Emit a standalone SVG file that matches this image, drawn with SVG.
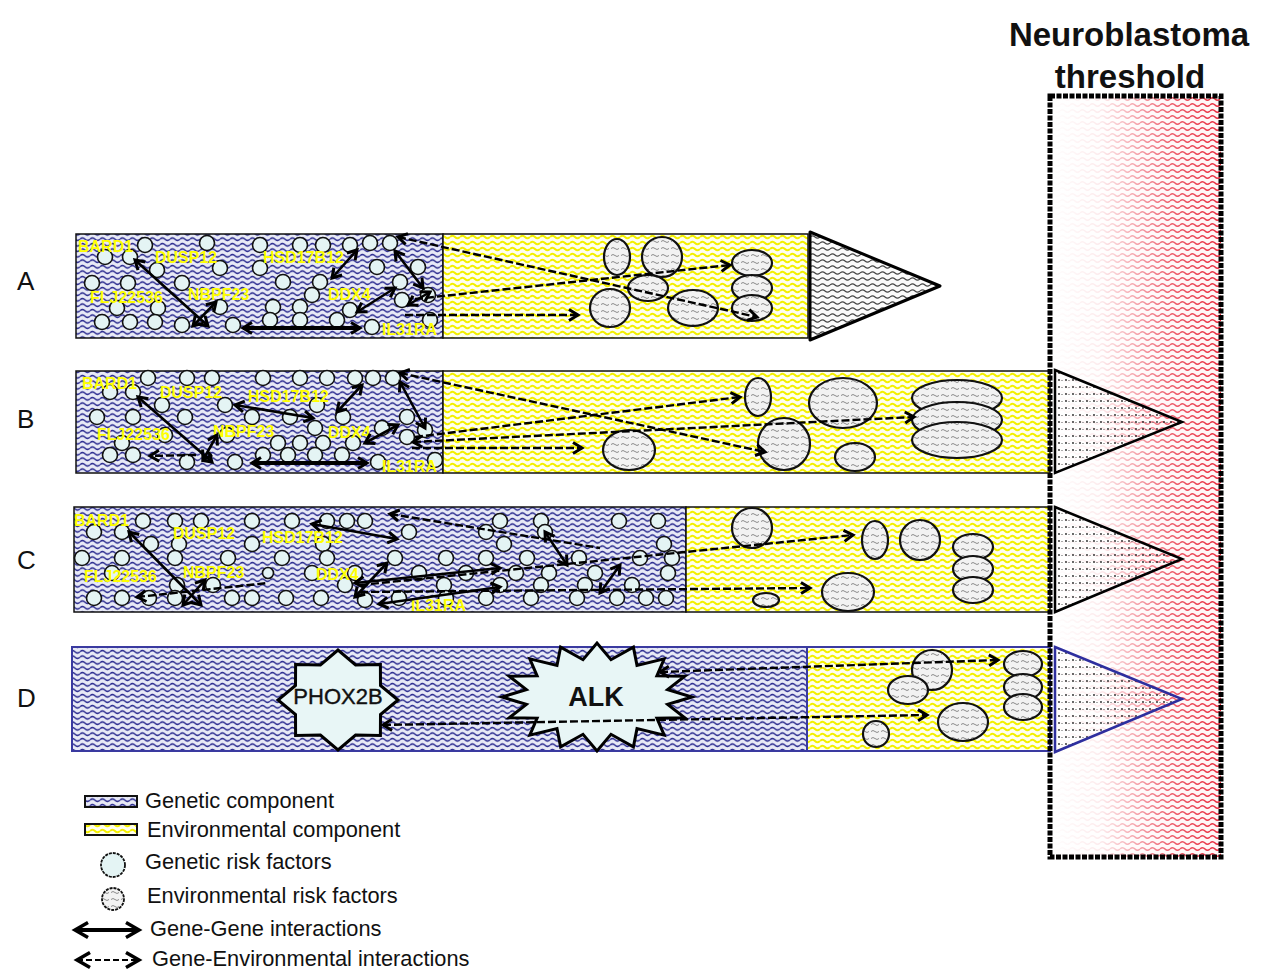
<svg xmlns="http://www.w3.org/2000/svg" width="1265" height="971" viewBox="0 0 1265 971">
<defs>
<style>
.lbl{font-family:"Liberation Sans",Arial,sans-serif;font-size:26px;fill:#111}
.gl{font-family:"Liberation Sans",Arial,sans-serif;font-size:16px;font-weight:bold;fill:#ffff00}
.leg{font-family:"Liberation Sans",Arial,sans-serif;font-size:21.8px;fill:#111}
.ttl{font-family:"Liberation Sans",Arial,sans-serif;font-size:33px;font-weight:bold;fill:#111;text-anchor:middle}
.gc{fill:#e4f4f4;stroke:#111;stroke-width:1.6}
.ec{fill:url(#pEnvRF);stroke:#111;stroke-width:2.2}
.gg{fill:none;stroke:#000;stroke-width:2.6;marker-start:url(#mh);marker-end:url(#mh)}
.ge{fill:none;stroke:#000;stroke-width:2.4;stroke-dasharray:8 3}
.geb{marker-start:url(#mh);marker-end:url(#mh)}
.gee{marker-end:url(#mh)}
.ges{marker-start:url(#mh)}
.gen{fill:url(#pGen);stroke:#111;stroke-width:1.5}
.env{fill:url(#pEnv);stroke:#111;stroke-width:1.5}
</style>
<pattern id="pGen" width="10" height="5.5" patternUnits="userSpaceOnUse">
<rect width="10" height="5.5" fill="#e8eaf6"/>
<path d="M0,2.75 q2.5,-2.4 5,0 t5,0" fill="none" stroke="#28288e" stroke-width="1.5"/>
</pattern>
<pattern id="pEnv" width="10" height="6" patternUnits="userSpaceOnUse">
<rect width="10" height="6" fill="#fffff0"/>
<path d="M0,3 q2.5,-2.6 5,0 t5,0" fill="none" stroke="#f4f000" stroke-width="2"/>
</pattern>
<pattern id="pEnvRF" width="10" height="7" patternUnits="userSpaceOnUse">
<rect width="10" height="7" fill="#f2f2f2"/>
<path d="M1,3.5 q2,-2 4,0 t4,0" fill="none" stroke="#8a8a8a" stroke-width="1"/>
</pattern>
<pattern id="pTri" width="10" height="6" patternUnits="userSpaceOnUse">
<rect width="10" height="6" fill="#fbfbfb"/>
<path d="M0,3 q2.5,-2.4 5,0 t5,0" fill="none" stroke="#444" stroke-width="1.1"/>
</pattern>
<pattern id="pRed" width="10" height="6" patternUnits="userSpaceOnUse">
<rect width="10" height="6" fill="#fff6f6"/>
<path d="M0,3 q2.5,-2.6 5,0 t5,0" fill="none" stroke="#e8283c" stroke-width="1.5"/>
</pattern>
<pattern id="pDot" width="7" height="7" patternUnits="userSpaceOnUse">
<circle cx="2" cy="2" r="0.9" fill="#222"/>
<circle cx="5" cy="2.5" r="0.6" fill="#444"/>
</pattern>
<linearGradient id="gWhite" x1="0" y1="0" x2="1" y2="0">
<stop offset="0" stop-color="#fff" stop-opacity="1"/>
<stop offset="0.3" stop-color="#fff" stop-opacity="0.9"/>
<stop offset="0.7" stop-color="#fff" stop-opacity="0.25"/>
<stop offset="1" stop-color="#fff" stop-opacity="0"/>
</linearGradient>
<marker id="mh" viewBox="0 0 14 14" refX="12" refY="7" markerWidth="14" markerHeight="14" markerUnits="userSpaceOnUse" orient="auto-start-reverse" overflow="visible">
<path d="M3,1.5 L12,7 L3,12.5" fill="none" stroke="#000" stroke-width="3" stroke-linejoin="miter"/>
</marker>
<marker id="mhL" viewBox="0 0 18 18" refX="16" refY="9" markerWidth="18" markerHeight="18" markerUnits="userSpaceOnUse" orient="auto-start-reverse" overflow="visible">
<path d="M3,1.5 L16,9 L3,16.5" fill="none" stroke="#000" stroke-width="3.5"/>
</marker>
</defs>
<rect width="1265" height="971" fill="#fff"/>

<!-- Threshold -->
<g id="threshold">
<rect x="1050" y="96" width="171" height="761" fill="url(#pRed)"/>
<rect x="1050" y="96" width="171" height="761" fill="url(#gWhite)"/>
</g>

<!-- Row labels -->
<g id="row-labels">
<text class="lbl" x="17" y="290">A</text>
<text class="lbl" x="17" y="428">B</text>
<text class="lbl" x="17" y="569">C</text>
<text class="lbl" x="17" y="707">D</text>
</g>

<!-- Row A -->
<g id="rowA-genetic">
<rect class="gen" x="76" y="234" width="367" height="104"/>
<g>
<circle class="gc" cx="145" cy="245" r="7.5"/><circle class="gc" cx="207" cy="243" r="7.5"/><circle class="gc" cx="260" cy="245" r="7.5"/><circle class="gc" cx="300" cy="245" r="7.5"/><circle class="gc" cx="323" cy="245" r="7.5"/><circle class="gc" cx="350" cy="245" r="7.5"/><circle class="gc" cx="370" cy="243" r="7.5"/><circle class="gc" cx="390" cy="243" r="7.5"/>
<circle class="gc" cx="105" cy="257" r="7.5"/><circle class="gc" cx="130" cy="257" r="7.5"/>
<circle class="gc" cx="157" cy="270" r="7.5"/><circle class="gc" cx="220" cy="268" r="7.5"/><circle class="gc" cx="260" cy="268" r="7.5"/><circle class="gc" cx="377" cy="267" r="7.5"/><circle class="gc" cx="418" cy="267" r="7.5"/>
<circle class="gc" cx="92" cy="283" r="7.5"/><circle class="gc" cx="128" cy="283" r="7.5"/><circle class="gc" cx="182" cy="283" r="7.5"/><circle class="gc" cx="283" cy="282" r="7.5"/><circle class="gc" cx="320" cy="282" r="7.5"/><circle class="gc" cx="400" cy="282" r="7.5"/>
<circle class="gc" cx="312" cy="295" r="7.5"/><circle class="gc" cx="428" cy="295" r="7.5"/><circle class="gc" cx="402" cy="300" r="7.5"/>
<circle class="gc" cx="117" cy="308" r="7.5"/><circle class="gc" cx="158" cy="308" r="7.5"/><circle class="gc" cx="220" cy="307" r="7.5"/><circle class="gc" cx="273" cy="307" r="7.5"/><circle class="gc" cx="300" cy="307" r="7.5"/><circle class="gc" cx="350" cy="310" r="7.5"/>
<circle class="gc" cx="102" cy="322" r="7.5"/><circle class="gc" cx="130" cy="322" r="7.5"/><circle class="gc" cx="155" cy="322" r="7.5"/><circle class="gc" cx="182" cy="325" r="7.5"/><circle class="gc" cx="233" cy="325" r="7.5"/><circle class="gc" cx="270" cy="320" r="7.5"/><circle class="gc" cx="300" cy="320" r="7.5"/><circle class="gc" cx="337" cy="320" r="7.5"/><circle class="gc" cx="372" cy="327" r="7.5"/><circle class="gc" cx="430" cy="320" r="7.5"/>
</g>
<text class="gl" x="78" y="252">BARD1</text>
<text class="gl" x="155" y="263">DUSP12</text>
<text class="gl" x="263" y="263">HSD17B12</text>
<text class="gl" x="90" y="303">FLJ22536</text>
<text class="gl" x="188" y="300">NBPF23</text>
<text class="gl" x="328" y="300">DDX4</text>
<text class="gl" x="382" y="335">IL31RA</text>
</g>
<g id="rowA-env">
<rect class="env" x="443" y="234" width="365" height="104"/>
<ellipse class="ec" cx="617" cy="257" rx="13" ry="18"/>
<ellipse class="ec" cx="662" cy="257" rx="20" ry="20"/>
<ellipse class="ec" cx="648" cy="288" rx="20" ry="13"/>
<ellipse class="ec" cx="610" cy="308" rx="20" ry="19"/>
<ellipse class="ec" cx="693" cy="308" rx="25" ry="18"/>
<ellipse class="ec" cx="752" cy="263" rx="20" ry="13"/>
<ellipse class="ec" cx="752" cy="288" rx="20" ry="13"/>
<ellipse class="ec" cx="752" cy="308" rx="20" ry="13"/>
</g>
<g id="rowA-outcome">
<polygon points="810,232 940,286 810,340" fill="url(#pTri)" stroke="#000" stroke-width="3" stroke-linejoin="round"/>
</g>

<!-- Row B -->
<g id="rowB-genetic">
<rect class="gen" x="76" y="371" width="367" height="102"/>
<g>
<circle class="gc" cx="148" cy="378" r="7.5"/><circle class="gc" cx="187" cy="378" r="7.5"/><circle class="gc" cx="212" cy="378" r="7.5"/><circle class="gc" cx="263" cy="378" r="7.5"/><circle class="gc" cx="300" cy="378" r="7.5"/><circle class="gc" cx="327" cy="378" r="7.5"/><circle class="gc" cx="355" cy="378" r="7.5"/><circle class="gc" cx="373" cy="378" r="7.5"/><circle class="gc" cx="393" cy="378" r="7.5"/>
<circle class="gc" cx="110" cy="392" r="7.5"/><circle class="gc" cx="133" cy="392" r="7.5"/>
<circle class="gc" cx="162" cy="405" r="7.5"/><circle class="gc" cx="225" cy="405" r="7.5"/><circle class="gc" cx="317" cy="405" r="7.5"/>
<circle class="gc" cx="97" cy="417" r="7.5"/><circle class="gc" cx="133" cy="417" r="7.5"/><circle class="gc" cx="185" cy="417" r="7.5"/><circle class="gc" cx="252" cy="417" r="7.5"/><circle class="gc" cx="290" cy="417" r="7.5"/><circle class="gc" cx="343" cy="417" r="7.5"/><circle class="gc" cx="407" cy="417" r="7.5"/>
<circle class="gc" cx="315" cy="428" r="7.5"/><circle class="gc" cx="382" cy="428" r="7.5"/><circle class="gc" cx="425" cy="430" r="7.5"/>
<circle class="gc" cx="165" cy="435" r="7.5"/><circle class="gc" cx="227" cy="435" r="7.5"/><circle class="gc" cx="407" cy="437" r="7.5"/>
<circle class="gc" cx="122" cy="443" r="7.5"/><circle class="gc" cx="278" cy="443" r="7.5"/><circle class="gc" cx="300" cy="443" r="7.5"/><circle class="gc" cx="323" cy="443" r="7.5"/><circle class="gc" cx="353" cy="443" r="7.5"/>
<circle class="gc" cx="110" cy="455" r="7.5"/><circle class="gc" cx="133" cy="455" r="7.5"/><circle class="gc" cx="263" cy="455" r="7.5"/><circle class="gc" cx="288" cy="455" r="7.5"/><circle class="gc" cx="315" cy="455" r="7.5"/><circle class="gc" cx="342" cy="455" r="7.5"/>
<circle class="gc" cx="187" cy="462" r="7.5"/><circle class="gc" cx="235" cy="462" r="7.5"/><circle class="gc" cx="378" cy="462" r="7.5"/><circle class="gc" cx="435" cy="460" r="7.5"/>
</g>
<text class="gl" x="82" y="389">BARD1</text>
<text class="gl" x="160" y="398">DUSP12</text>
<text class="gl" x="248" y="402">HSD17B12</text>
<text class="gl" x="97" y="440">FLJ22536</text>
<text class="gl" x="213" y="437">NBPF23</text>
<text class="gl" x="328" y="438">DDX4</text>
<text class="gl" x="382" y="472">IL31RA</text>
</g>
<g id="rowB-env">
<rect class="env" x="443" y="371" width="607" height="102"/>
<ellipse class="ec" cx="758" cy="397" rx="13" ry="19"/>
<ellipse class="ec" cx="843" cy="403" rx="34" ry="25"/>
<ellipse class="ec" cx="957" cy="398" rx="45" ry="18"/>
<ellipse class="ec" cx="957" cy="420" rx="45" ry="18"/>
<ellipse class="ec" cx="957" cy="440" rx="45" ry="18"/>
<ellipse class="ec" cx="784" cy="444" rx="26" ry="26"/>
<ellipse class="ec" cx="629" cy="450" rx="26" ry="20"/>
<ellipse class="ec" cx="855" cy="457" rx="20" ry="14"/>
</g>

<!-- Row C -->
<g id="rowC-genetic">
<rect class="gen" x="74" y="507" width="612" height="105"/>
<g>
<circle class="gc" cx="143" cy="521" r="7.5"/><circle class="gc" cx="175" cy="521" r="7.5"/><circle class="gc" cx="201" cy="521" r="7.5"/><circle class="gc" cx="252" cy="521" r="7.5"/><circle class="gc" cx="292" cy="521" r="7.5"/><circle class="gc" cx="327" cy="521" r="7.5"/><circle class="gc" cx="347" cy="521" r="7.5"/><circle class="gc" cx="365" cy="521" r="7.5"/><circle class="gc" cx="500" cy="521" r="7.5"/><circle class="gc" cx="541" cy="521" r="7.5"/><circle class="gc" cx="619" cy="521" r="7.5"/><circle class="gc" cx="658" cy="521" r="7.5"/>
<circle class="gc" cx="94" cy="532" r="7.5"/><circle class="gc" cx="122" cy="532" r="7.5"/><circle class="gc" cx="409" cy="532" r="7.5"/><circle class="gc" cx="486" cy="532" r="7.5"/><circle class="gc" cx="545" cy="532" r="7.5"/>
<circle class="gc" cx="151" cy="544" r="7.5"/><circle class="gc" cx="179" cy="544" r="7.5"/><circle class="gc" cx="252" cy="544" r="7.5"/><circle class="gc" cx="323" cy="544" r="7.5"/><circle class="gc" cx="504" cy="544" r="7.5"/><circle class="gc" cx="664" cy="544" r="7.5"/>
<circle class="gc" cx="82" cy="558" r="7.5"/><circle class="gc" cx="122" cy="558" r="7.5"/><circle class="gc" cx="175" cy="558" r="7.5"/><circle class="gc" cx="228" cy="558" r="7.5"/><circle class="gc" cx="282" cy="558" r="7.5"/><circle class="gc" cx="327" cy="558" r="7.5"/><circle class="gc" cx="395" cy="558" r="7.5"/><circle class="gc" cx="446" cy="558" r="7.5"/><circle class="gc" cx="486" cy="558" r="7.5"/><circle class="gc" cx="527" cy="558" r="7.5"/><circle class="gc" cx="579" cy="558" r="7.5"/><circle class="gc" cx="640" cy="558" r="7.5"/><circle class="gc" cx="672" cy="558" r="7.5"/>
<circle class="gc" cx="112" cy="573" r="7.5"/><circle class="gc" cx="268" cy="573" r="5.5"/><circle class="gc" cx="312" cy="573" r="7.5"/><circle class="gc" cx="355" cy="573" r="7.5"/><circle class="gc" cx="419" cy="573" r="7.5"/><circle class="gc" cx="466" cy="573" r="7.5"/><circle class="gc" cx="516" cy="573" r="7.5"/><circle class="gc" cx="549" cy="573" r="7.5"/><circle class="gc" cx="595" cy="573" r="7.5"/><circle class="gc" cx="668" cy="573" r="7.5"/>
<circle class="gc" cx="177" cy="585" r="7.5"/><circle class="gc" cx="213" cy="585" r="7.5"/><circle class="gc" cx="345" cy="585" r="7.5"/><circle class="gc" cx="444" cy="585" r="7.5"/><circle class="gc" cx="500" cy="585" r="7.5"/><circle class="gc" cx="541" cy="585" r="7.5"/><circle class="gc" cx="585" cy="585" r="7.5"/><circle class="gc" cx="632" cy="585" r="7.5"/>
<circle class="gc" cx="94" cy="598" r="7.5"/><circle class="gc" cx="122" cy="598" r="7.5"/><circle class="gc" cx="149" cy="598" r="7.5"/><circle class="gc" cx="175" cy="598" r="7.5"/><circle class="gc" cx="232" cy="598" r="7.5"/><circle class="gc" cx="252" cy="598" r="7.5"/><circle class="gc" cx="286" cy="598" r="7.5"/><circle class="gc" cx="321" cy="598" r="7.5"/><circle class="gc" cx="365" cy="600" r="7.5"/><circle class="gc" cx="399" cy="598" r="7.5"/><circle class="gc" cx="446" cy="598" r="7.5"/><circle class="gc" cx="486" cy="598" r="7.5"/><circle class="gc" cx="531" cy="598" r="7.5"/><circle class="gc" cx="577" cy="598" r="7.5"/><circle class="gc" cx="617" cy="598" r="7.5"/><circle class="gc" cx="646" cy="598" r="7.5"/><circle class="gc" cx="666" cy="598" r="7.5"/>
</g>
<text class="gl" x="74" y="526">BARD1</text>
<text class="gl" x="173" y="539">DUSP12</text>
<text class="gl" x="262" y="543">HSD17B12</text>
<text class="gl" x="84" y="582">FLJ22536</text>
<text class="gl" x="183" y="578">NBPF23</text>
<text class="gl" x="316" y="580">DDX4</text>
<text class="gl" x="411" y="611">IL31RA</text>
</g>
<g id="rowC-env">
<rect class="env" x="686" y="507" width="364" height="105"/>
<ellipse class="ec" cx="752" cy="528" rx="20" ry="20"/>
<ellipse class="ec" cx="875" cy="540" rx="13" ry="19"/>
<ellipse class="ec" cx="920" cy="540" rx="20" ry="20"/>
<ellipse class="ec" cx="973" cy="547" rx="20" ry="13"/>
<ellipse class="ec" cx="973" cy="569" rx="20" ry="13"/>
<ellipse class="ec" cx="973" cy="590" rx="20" ry="13"/>
<ellipse class="ec" cx="848" cy="592" rx="26" ry="19"/>
<ellipse class="ec" cx="766" cy="600" rx="13" ry="7"/>
</g>

<!-- Row D -->
<g id="rowD-genetic">
<rect x="72" y="647" width="735" height="104" fill="url(#pGen)" stroke="#3a3aa0" stroke-width="2"/>
</g>
<g id="rowD-env">
<rect x="807" y="647" width="243" height="104" fill="url(#pEnv)" stroke="#3a3aa0" stroke-width="2"/>
<ellipse class="ec" cx="932" cy="670" rx="20" ry="20"/>
<ellipse class="ec" cx="908" cy="690" rx="20" ry="14"/>
<ellipse class="ec" cx="963" cy="722" rx="25" ry="19"/>
<ellipse class="ec" cx="876" cy="734" rx="13" ry="13"/>
<ellipse class="ec" cx="1023" cy="664" rx="19" ry="13"/>
<ellipse class="ec" cx="1023" cy="687" rx="19" ry="13"/>
<ellipse class="ec" cx="1023" cy="707" rx="19" ry="13"/>
</g>
<g id="PHOX2B">
<polygon points="398,700 380.5,714.5 380.4,735.4 355.6,735.1 338,750 320.4,735.1 295.6,735.4 295.5,714.5 278,700 295.5,685.5 295.6,664.6 320.4,664.9 338,650 355.6,664.9 380.4,664.6 380.5,685.5" fill="#e8f6f6" stroke="#000" stroke-width="3" stroke-linejoin="miter"/>
<text x="338" y="704" text-anchor="middle" style="font-family:'Liberation Sans',Arial,sans-serif;font-size:22px;fill:#111;stroke:#111;stroke-width:0.4">PHOX2B</text>
</g>
<g id="ALK">
<polygon points="692,697 667.6,704.4 684.8,717.7 656.9,718.1 664.2,735.2 637,728.6 633.4,746.9 611,734.3 597,751 583,734.3 560.6,746.9 557,728.6 529.8,735.2 537.1,718.1 509.2,717.7 526.4,704.4 502,697 526.4,689.6 509.2,676.3 537.1,675.9 529.8,658.8 557,665.4 560.6,647.1 583,659.7 597,643 611,659.7 633.4,647.1 637,665.4 664.2,658.8 656.9,675.9 684.8,676.3 667.6,689.6" fill="#e8f6f6" stroke="#000" stroke-width="3" stroke-linejoin="miter"/>
<text x="596" y="706" text-anchor="middle" style="font-family:'Liberation Sans',Arial,sans-serif;font-size:27px;font-weight:bold;fill:#111">ALK</text>
</g>

<!-- Threshold outcome triangles -->
<g id="outcome-triangles">
<polygon points="1055,370 1182,422 1055,473" fill="url(#pDot)" stroke="#000" stroke-width="2.5"/>
<polygon points="1055,507 1182,559 1055,612" fill="url(#pDot)" stroke="#000" stroke-width="2.5"/>
<polygon points="1055,647 1182,699 1055,752" fill="url(#pDot)" stroke="#2e2e9e" stroke-width="2.5"/>
</g>
<g id="threshold-border">
<rect x="1050" y="96" width="171" height="761" fill="none" stroke="#000" stroke-width="5" stroke-dasharray="5 1.5"/>
</g>

<!-- Connectors -->
<g id="connectors">
<line class="gg" x1="135" y1="260" x2="208" y2="326"/>
<line class="gg" x1="193" y1="326" x2="216" y2="302"/>
<line class="gg" x1="243" y1="328" x2="360" y2="328" style="stroke-width:4"/>
<line class="gg" x1="357" y1="250" x2="332" y2="278"/>
<line class="gg" x1="395" y1="288" x2="357" y2="312"/>
<line class="gg" x1="395" y1="251" x2="423" y2="288"/>
<line class="gg" x1="430" y1="292" x2="408" y2="305"/>
<line class="ge ges gee" x1="398" y1="237" x2="757" y2="317"/>
<line class="ge gee" x1="415" y1="299" x2="730" y2="265"/>
<line class="ge gee" x1="405" y1="315" x2="578" y2="315"/>
<line class="gg" x1="138" y1="397" x2="212" y2="462"/>
<line class="gg" x1="217" y1="435" x2="203" y2="460"/>
<line class="gg" x1="235" y1="405" x2="313" y2="418"/>
<line class="gg" x1="362" y1="385" x2="337" y2="412"/>
<line class="gg" x1="398" y1="425" x2="365" y2="443"/>
<line class="gg" x1="252" y1="463" x2="367" y2="463" style="stroke-width:4"/>
<line class="gg" x1="400" y1="382" x2="425" y2="428"/>
<line class="ge gee" x1="196" y1="455" x2="150" y2="456"/>
<line class="ge ges gee" x1="400" y1="373" x2="765" y2="452"/>
<line class="ge gee" x1="415" y1="437" x2="740" y2="397"/>
<line class="ge ges gee" x1="413" y1="442" x2="914" y2="417"/>
<line class="ge gee" x1="412" y1="448" x2="582" y2="448"/>
<line class="gg" x1="129" y1="532" x2="201" y2="605"/>
<line class="gg" x1="205" y1="580" x2="183" y2="605"/>
<line class="gg" x1="312" y1="524" x2="397" y2="539"/>
<line class="gg" x1="387" y1="563" x2="355" y2="597"/>
<line class="gg" x1="379" y1="604" x2="500" y2="587"/>
<line class="gg" x1="355" y1="583" x2="500" y2="568"/>
<line class="gg" x1="545" y1="532" x2="567" y2="565"/>
<line class="gg" x1="620" y1="565" x2="600" y2="593"/>
<line class="ge ges" x1="390" y1="514" x2="600" y2="548"/>
<line class="ge gee" x1="360" y1="585" x2="853" y2="535"/>
<line class="ge ges" x1="137" y1="597" x2="268" y2="583"/>
<line class="ge gee" x1="360" y1="592" x2="810" y2="588"/>
<line class="ge geb" x1="660" y1="672" x2="998" y2="660"/>
<line class="ge geb" x1="383" y1="725" x2="927" y2="715"/>
</g>

<!-- Title -->
<g id="title">
<text class="ttl" x="1129" y="46">Neuroblastoma</text>
<text class="ttl" x="1130" y="88">threshold</text>
</g>

<!-- Legend -->
<g id="legend">
<rect x="85" y="796" width="52" height="11" fill="url(#pGen)" stroke="#111" stroke-width="2"/>
<text class="leg" x="145" y="808">Genetic component</text>
<rect x="85" y="824" width="52" height="11" fill="url(#pEnv)" stroke="#111" stroke-width="2"/>
<text class="leg" x="147" y="837">Environmental component</text>
<circle cx="113" cy="865" r="12" fill="#e4f4f4" stroke="#111" stroke-width="1.8" stroke-dasharray="3 1"/>
<text class="leg" x="145" y="869">Genetic risk factors</text>
<circle cx="113" cy="899" r="11" fill="url(#pEnvRF)" stroke="#111" stroke-width="1.8" stroke-dasharray="3 1"/>
<text class="leg" x="147" y="903">Environmental risk factors</text>
<line x1="75" y1="930" x2="139" y2="930" stroke="#000" stroke-width="4" marker-start="url(#mhL)" marker-end="url(#mhL)"/>
<text class="leg" x="150" y="936">Gene-Gene interactions</text>
<line x1="77" y1="960" x2="139" y2="960" stroke="#000" stroke-width="2" stroke-dasharray="6 3" marker-start="url(#mhL)" marker-end="url(#mhL)"/>
<text class="leg" x="152" y="966">Gene-Environmental interactions</text>
</g>
</svg>
